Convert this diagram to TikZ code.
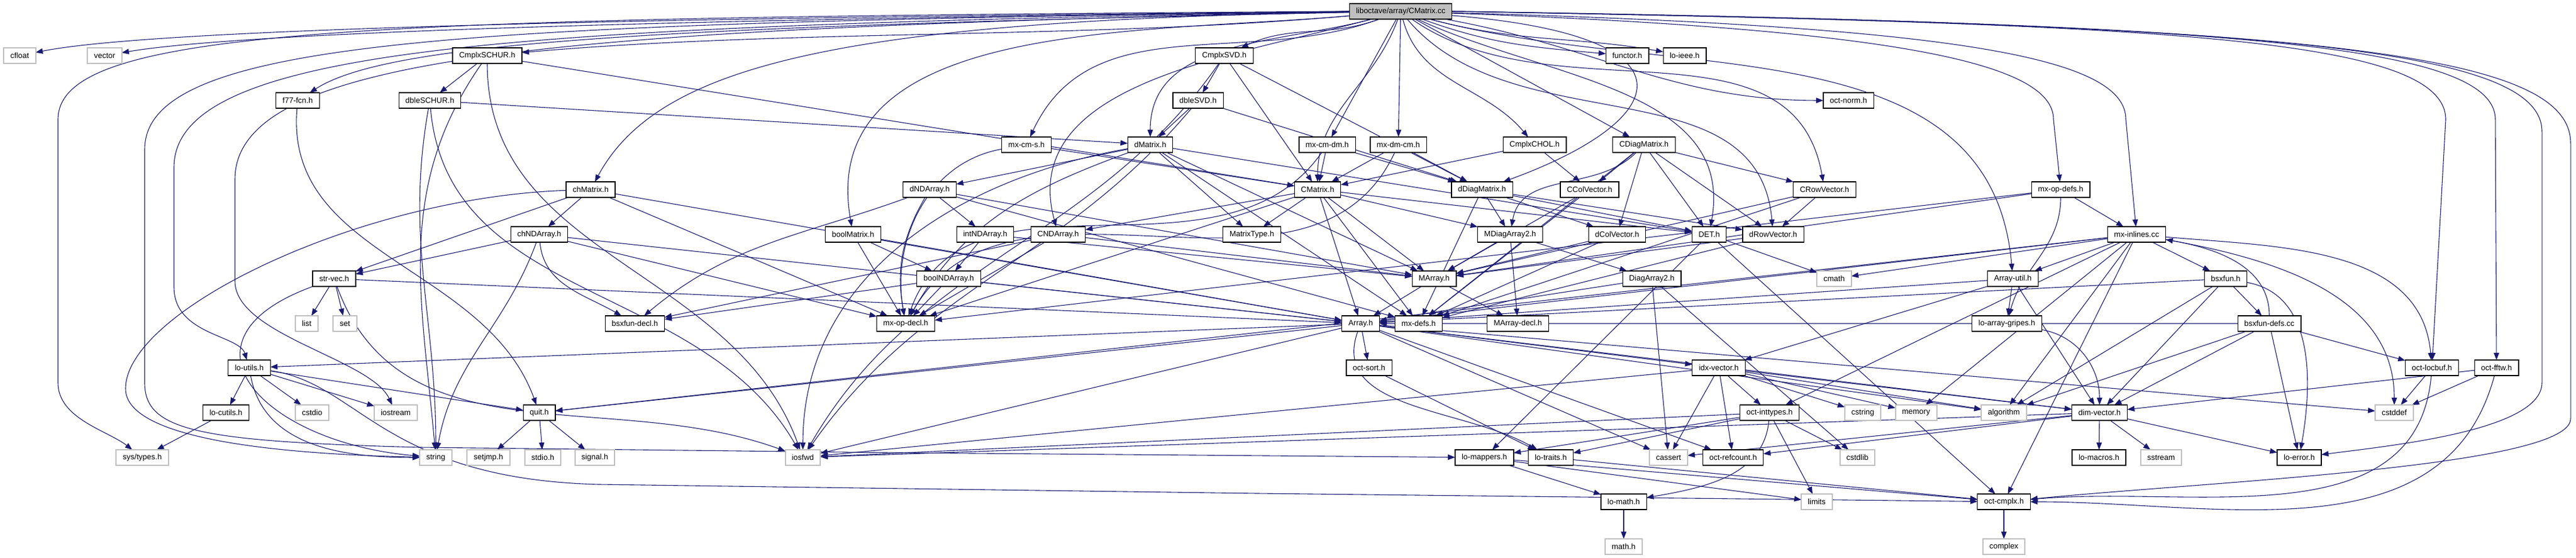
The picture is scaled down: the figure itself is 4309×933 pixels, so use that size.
\documentclass[tikz,border=0pt]{standalone}
\usepackage{fontspec}
\setmainfont{Liberation Sans}
\usepackage{tikz}
\usetikzlibrary{arrows.meta,backgrounds,calc}
\definecolor{edgecol}{HTML}{191970}
\definecolor{syscol}{HTML}{BFBFBF}

\begin{document}
\begin{tikzpicture}[x = 0.08pt, y = -0.08pt]
	\tikzstyle{every node} = [rectangle, draw = black, line width = 0.096pt, fill = white, minimum height = 2.08pt, inner xsep = 0.88pt, inner ysep = 0pt, outer sep = 0pt, font = \fontsize{1.04}{1.25}\selectfont]
	\tikzstyle{sys} = [draw = syscol, line width = 0.16pt]
	\tikzstyle{dep} = [draw = edgecol, line width = 0.088pt, -{Triangle[length = 0.96pt, width = 0.72pt]}]
	\useasboundingbox (0, 0) rectangle (4309, 933);

% rows 0 - 2
\node[fill = syscol] (cmcc) at (2343, 19) {liboctave/array/CMatrix.cc};
\node[sys] (cfloat) at (33, 93) {cfloat};
\node[sys] (vector) at (175, 93) {vector};
\node (cschur) at (815, 93) {CmplxSCHUR.h};
\node (csvd) at (2048, 93) {CmplxSVD.h};
\node (functor) at (2722, 93) {functor.h};
\node (loieee) at (2818, 93) {lo-ieee.h};
\node (f77) at (498, 168) {f77-fcn.h};
\node (dschur) at (719, 168) {dbleSCHUR.h};
\node (dsvd) at (2004, 168) {dbleSVD.h};
\node (octnorm) at (3092, 168) {oct-norm.h};

% rows 3 - 5
\node (mxcms) at (1717, 242) {mx-cm-s.h};
\node (dmat) at (1924, 242) {dMatrix.h};
\node (mxcmdm) at (2220, 242) {mx-cm-dm.h};
\node (mxdmcm) at (2339, 242) {mx-dm-cm.h};
\node (cchol) at (2567, 242) {CmplxCHOL.h};
\node (cdiag) at (2750, 242) {CDiagMatrix.h};
\node (chmat) at (988, 317) {chMatrix.h};
\node (dnda) at (1555, 317) {dNDArray.h};
\node (cmat) at (2204, 317) {CMatrix.h};
\node (ddiag) at (2479, 317) {dDiagMatrix.h};
\node (ccol) at (2659, 317) {CColVector.h};
\node (crow) at (3052, 317) {CRowVector.h};
\node (mxopdefs) at (3447, 317) {mx-op-defs.h};
\node (chnda) at (902, 392) {chNDArray.h};
\node (boolmat) at (1427, 392) {boolMatrix.h};
\node (intnda) at (1648, 392) {intNDArray.h};
\node (cnda) at (1770, 392) {CNDArray.h};
\node (mtype) at (2094, 392) {MatrixType.h};
\node (mdiag) at (2526, 392) {MDiagArray2.h};
\node (dcol) at (2705, 392) {dColVector.h};
\node (det) at (2859, 392) {DET.h};
\node (drow) at (2966, 392) {dRowVector.h};
\node (mxinl) at (3574, 392) {mx-inlines.cc};

% rows 6 - 8
\node (strvec) at (559, 466) {str-vec.h};
\node (boolnda) at (1587, 466) {boolNDArray.h};
\node (marray) at (2399, 466) {MArray.h};
\node (diag2) at (2763, 466) {DiagArray2.h};
\node[sys] (cmath) at (3068, 466) {cmath};
\node (arrutil) at (3367, 466) {Array-util.h};
\node (bsxfun) at (3723, 466) {bsxfun.h};
\node[sys] (list) at (513, 541) {list};
\node[sys] (set) at (577, 541) {set};
\node (bsxdecl) at (1062, 541) {bsxfun-decl.h};
\node (mxopdecl) at (1515, 541) {mx-op-decl.h};
\node (array) at (2276, 541) {Array.h};
\node (mxdefs) at (2373, 541) {mx-defs.h};
\node (marrdecl) at (2539, 541) {MArray-decl.h};
\node (gripes) at (3357, 541) {lo-array-gripes.h};
\node (bsxdefs) at (3796, 541) {bsxfun-defs.cc};
\node (loutils) at (417, 615) {lo-utils.h};
\node (octsort) at (2290, 615) {oct-sort.h};
\node (idxvec) at (2875, 615) {idx-vector.h};
\node (locbuf) at (4068, 615) {oct-locbuf.h};
\node (fftw) at (4176, 615) {oct-fftw.h};

% rows 9 - 12
\node (locutils) at (378, 690) {lo-cutils.h};
\node[sys] (cstdio) at (522, 690) {cstdio};
\node[sys] (iostream) at (662, 690) {iostream};
\node (quit) at (902, 690) {quit.h};
\node (inttypes) at (2960, 690) {oct-inttypes.h};
\node[sys] (cstring) at (3116, 690) {cstring};
\node[sys] (memory) at (3205, 690) {memory};
\node[sys] (algorithm) at (3352, 690) {algorithm};
\node (dimvec) at (3512, 690) {dim-vector.h};
\node[sys] (cstddef) at (4005, 690) {cstddef};
\node[sys] (systypes) at (238, 765) {sys/types.h};
\node[sys] (string) at (729, 765) {string};
\node[sys] (setjmp) at (817, 765) {setjmp.h};
\node[sys] (stdio) at (908, 765) {stdio.h};
\node[sys] (signal) at (995, 765) {signal.h};
\node[sys] (iosfwd) at (1343, 765) {iosfwd};
\node (mappers) at (2483, 765) {lo-mappers.h};
\node (traits) at (2594, 765) {lo-traits.h};
\node[sys] (cassert) at (2791, 765) {cassert};
\node (refcount) at (2899, 765) {oct-refcount.h};
\node[sys] (cstdlib) at (3107, 765) {cstdlib};
\node (macros) at (3511, 765) {lo-macros.h};
\node[sys] (sstream) at (3615, 765) {sstream};
\node (loerror) at (3846, 765) {lo-error.h};
\node (lomath) at (2716, 839) {lo-math.h};
\node[sys] (limits) at (3039, 839) {limits};
\node (cmplx) at (3352, 839) {oct-cmplx.h};
\node[sys] (mathh) at (2716, 914) {math.h};
\node[sys] (complex) at (3352, 914) {complex};

\begin{pgfonlayer}{background}
% CMatrix.cc
	\path[dep] (cmcc) .. controls (1000, 30) and (250, 50) .. (cfloat);
	\path[dep] (cmcc) .. controls (1100, 32) and (400, 55) .. (vector);
	\path[dep] (cmcc.west) .. controls (600, 30) and (97, 45) .. (97, 200) -- (97, 640) .. controls (97, 700) and (180, 720) .. (systypes);
	\path[dep] (cmcc.west) .. controls (800, 40) and (242, 60) .. (242, 250) -- (242, 640) .. controls (242, 720) and (330, 738) .. (700, 748) -- (1500, 757) -- (mappers);
	\path[dep] (cmcc.west) .. controls (900, 45) and (291, 70) .. (291, 280) -- (291, 480) .. controls (291, 560) and (400, 560) .. (loutils);
	\path[dep] (cmcc.west) .. controls (1000, 50) and (393, 80) .. (393, 300) -- (393, 470) .. controls (393, 560) and (620, 600) .. (iostream);
	\path[dep] (cmcc) to[out = 185, in = 5, distance = 36pt] (cschur);
	\path[dep] (cmcc) .. controls (1100, 45) and (650, 70) .. (f77);
	\path[dep] (cmcc) .. controls (1400, 35) and (1100, 110) .. (chmat);
	\path[dep] (cmcc) to[out = 185, in = 100] (boolmat);
	\path[dep] (cmcc) to[out = 200, in = 65] (mxcms);
	\path[dep] (cmcc) to[out = 195, in = 105] (cnda);
	\path[dep] (cmcc) to[out = 195, in = 90] (dmat);
	\path[dep] (cmcc) to[out = 200, in = 25] (csvd);
	\path[dep] (cmcc) to[out = 250, in = 90] (cmat);
	\path[dep] (cmcc) -- (mxcmdm);
	\path[dep] (cmcc) -- (mxdmcm);
	\path[dep] (cmcc) to[out = -75, in = 130] (cchol);
	\path[dep] (cmcc) -- (cdiag);
	\path[dep] (cmcc) .. controls (2850, 60) and (2800, 200) .. (ddiag);
	\path[dep] (cmcc) to[out = -20, in = 175] (functor);
	\path[dep] (cmcc) to[out = -15, in = 170] (loieee);
	\path[dep] (cmcc) to[out = -10, in = 180] (octnorm);
	\path[dep] (cmcc) to[out = -35, in = 100] (crow);
	\path[dep] (cmcc) to[out = -50, in = 95] (drow);
	\path[dep] (cmcc) to[out = -25, in = 80] (det);
	\path[dep] (cmcc) .. controls (3200, 50) and (3435, 110) .. (3435, 200) -- (mxopdefs);
	\path[dep] (cmcc) .. controls (3300, 45) and (3556, 100) .. (3556, 200) -- (mxinl);
	\path[dep] (cmcc) to[out = -15, in = 95] (arrutil);
	\path[dep] (cmcc.east) .. controls (3600, 40) and (4091, 60) .. (4091, 200) -- (locbuf);
	\path[dep] (cmcc.east) .. controls (3700, 40) and (4174, 70) .. (4174, 200) -- (fftw);
	\path[dep] (cmcc.east) .. controls (3800, 40) and (4252, 80) .. (4252, 220) -- (4252, 640) .. controls (4252, 720) and (4000, 745) .. (loerror);
	\path[dep] (cmcc.east) .. controls (3900, 40) and (4300, 90) .. (4300, 240) -- (4300, 700) .. controls (4300, 780) and (3700, 805) .. (cmplx);

% upper headers
	\path[dep] (cschur) -- (dschur); \path[dep] (cschur) -- (cmat);
	\path[dep] (cschur) to[out = 235, in = 95] (string);
	\path[dep] (cschur) to[out = 270, in = 110] (iosfwd);
	\path[dep] (dschur) -- (dmat);
	\path[dep] (dschur) to[out = 260, in = 90] (string);
	\path[dep] (dschur) to[out = 275, in = 120] (iosfwd);
	\path[dep] (csvd) -- (dsvd); \path[dep] (csvd) -- (cmat); \path[dep] (csvd) -- (ddiag);
	\path[dep] (csvd) to[out = 235, in = 60] (iosfwd);
	\path[dep] (dsvd) -- (dmat); \path[dep] (dsvd) -- (ddiag);
	\path[dep] (dsvd) to[out = 230, in = 55] (iosfwd);
	\path[dep] (f77) to[out = 265, in = 110] (quit);
	\path[dep] (mxcms) -- (cmat);
	\path[dep] (mxcms) to[out = 190, in = 100] (mxopdecl);
	\path[dep] (mxcmdm) -- (cmat); \path[dep] (mxcmdm) -- (ddiag);
	\path[dep] (mxcmdm) to[out = 235, in = 70] (mxopdecl);
	\path[dep] (mxdmcm) -- (cmat); \path[dep] (mxdmcm) -- (ddiag);
	\path[dep] (mxdmcm) to[out = 245, in = 60] (mxopdecl);
	\path[dep] (cchol) -- (cmat); \path[dep] (cchol) -- (ccol);
	\path[dep] (cdiag) to[out = 225, in = 80] (mdiag);
	\path[dep] (cdiag) -- (ccol); \path[dep] (cdiag) -- (dcol); \path[dep] (cdiag) -- (det);
	\path[dep] (cdiag) -- (drow); \path[dep] (cdiag) -- (crow); \path[dep] (cdiag) -- (mxdefs);

% char, bool and double arrays
	\path[dep] (chmat) -- (chnda); \path[dep] (chmat) -- (strvec);
	\path[dep] (chmat) .. controls (600, 330) and (210, 520) .. (210, 650) .. controls (210, 740) and (500, 760) .. (string);
	\path[dep] (chmat) -- (mxopdecl); \path[dep] (chmat) -- (array);
	\path[dep] (chnda) -- (strvec); \path[dep] (chnda) -- (mxopdecl); \path[dep] (chnda) -- (array);
	\path[dep] (chnda) to[out = 275, in = 150] (bsxdecl);
	\path[dep] (chnda) to[out = 250, in = 80] (string);
	\path[dep] (strvec) -- (list); \path[dep] (strvec) -- (set);
	\path[dep] (strvec) -- ($(strvec)!.5!(array)$) -- (array);
	\path[dep] (strvec) to[out = 200, in = 175, looseness = 2] (string);
	\path[dep] (strvec) to[out = 290, in = 160] (iosfwd);
	\path[dep] (loutils) -- (locutils); \path[dep] (loutils) -- (cstdio);
	\path[dep] (loutils) -- (iostream); \path[dep] (loutils) -- (quit);
	\path[dep] (loutils) to[out = 280, in = 180] (string);
	\path[dep] (loutils) .. controls (600, 640) and (640, 800) .. (1000, 810) -- (2100, 825) -- (cmplx);
	\path[dep] (locutils) -- (systypes);
	\path[dep] (quit) -- (setjmp); \path[dep] (quit) -- (stdio); \path[dep] (quit) -- (signal);
	\path[dep] (dmat) -- (dnda); \path[dep] (dmat) -- (mtype); \path[dep] (dmat) -- (det);
	\path[dep] (dmat) -- (marray); \path[dep] (dmat) -- (mxdefs);
	\path[dep] (dmat) to[out = 200, in = 60] (mxopdecl);
	\path[dep] (dmat) to[out = 190, in = 90] (iosfwd);
	\path[dep] (cmat) -- (cnda); \path[dep] (cmat) -- (mtype); \path[dep] (cmat) -- (marray);
	\path[dep] (cmat) -- (mdiag); \path[dep] (cmat) -- (det); \path[dep] (cmat) -- (mxdefs);
	\path[dep] (cmat) -- (mxopdecl); \path[dep] (cmat) -- (array);
	\path[dep] (ddiag) -- (mdiag); \path[dep] (ddiag) -- (dcol); \path[dep] (ddiag) -- (det);
	\path[dep] (ddiag) -- (drow); \path[dep] (ddiag) -- (mxdefs);
	\path[dep] (ccol) -- (marray); \path[dep] (ccol) -- (mxdefs);
	\path[dep] (crow) -- (drow); \path[dep] (crow) -- (marray); \path[dep] (crow) -- (mxdefs);
	\path[dep] (dnda) -- (intnda); \path[dep] (dnda) -- (mxdefs); \path[dep] (dnda) -- (marray);
	\path[dep] (dnda) to[out = 200, in = 40] (bsxdecl);
	\path[dep] (dnda) to[out = 240, in = 100] (mxopdecl);
	\path[dep] (intnda) -- (boolnda); \path[dep] (intnda) -- (marray);
	\path[dep] (boolmat) -- (boolnda); \path[dep] (boolmat) -- (mxopdecl); \path[dep] (boolmat) -- (array);
	\path[dep] (boolnda) -- (mxopdecl); \path[dep] (boolnda) -- (bsxdecl); \path[dep] (boolnda) -- (array);
	\path[dep] (cnda) -- (mxopdecl); \path[dep] (cnda) -- (bsxdecl); \path[dep] (cnda) -- (marray);
	\path[dep] (mdiag) -- (diag2); \path[dep] (mdiag) -- (marray); \path[dep] (mdiag) -- (marrdecl);
	\path[dep] (dcol) -- (marray); \path[dep] (dcol) -- (mxdefs);
	\path[dep] (drow) -- (marray); \path[dep] (drow) -- (mxdefs);
	\path[dep] (det) -- (cmath); \path[dep] (det) -- (mappers); \path[dep] (det) -- (cmplx);

% mx-inlines.cc, bsxfun and friends
	\path[dep] (mxopdefs) -- (mxinl); \path[dep] (mxopdefs) -- (marray);
	\path[dep] (mxopdefs) -- ($(mxopdefs)!.5!(mxopdecl)$) -- (mxopdecl);
	\path[dep] (mxopdefs) to[out = 270, in = 75] (gripes);
	\path[dep] (mxinl) -- (arrutil); \path[dep] (mxinl) -- (bsxfun); \path[dep] (mxinl) -- (cmath);
	\path[dep] (mxinl) -- (array); \path[dep] (mxinl) -- (memory);
	\path[dep] (mxinl) -- ($(mxinl)!.5!(quit)$) -- (quit);
	\path[dep] (mxinl) -- (inttypes); \path[dep] (mxinl) -- (cmplx); \path[dep] (mxinl) -- (algorithm);
	\path[dep] (mxinl) to[out = -5, in = 95] (locbuf);
	\path[dep] (mxinl) to[out = -10, in = 90] (cstddef);
	\path[dep] (bsxdefs) to[out = 90, in = -10] (mxinl);
	\path[dep] (marray) -- (array); \path[dep] (marray) -- (marrdecl);
	\path[dep] (diag2) -- (cassert); \path[dep] (diag2) -- (cstdlib); \path[dep] (diag2) -- (array);
	\path[dep] (arrutil) -- (array); \path[dep] (arrutil) -- (idxvec);
	\path[dep] (arrutil) -- (gripes); \path[dep] (arrutil) -- (dimvec);
	\path[dep] (bsxfun) -- ($(bsxfun)!.5!(array)$) -- (array);
	\path[dep] (bsxfun) -- (algorithm); \path[dep] (bsxfun) -- (dimvec); \path[dep] (bsxfun) -- (bsxdefs);
	\path[dep] (bsxfun) to[out = -10, in = 80] (loerror);
	\path[dep] (bsxdefs) -- ($(bsxdefs)!.5!(array)$) -- (array);
	\path[dep] (bsxdefs) -- (algorithm); \path[dep] (bsxdefs) -- (dimvec);
	\path[dep] (bsxdefs) -- (loerror); \path[dep] (bsxdefs) -- (locbuf);
	\path[dep] (gripes) to[out = -10, in = 90] (dimvec);
	\path[dep] (locbuf) -- (cstddef);
	\path[dep] (locbuf) to[out = 265, in = 5] (cmplx);
	\path[dep] (fftw) -- (dimvec); \path[dep] (fftw) -- (cstddef);
	\path[dep] (fftw) to[out = 255, in = 0] (cmplx);
	\path[dep] (dimvec) -- (macros); \path[dep] (dimvec) -- (sstream); \path[dep] (dimvec) -- (loerror);
	\path[dep] (dimvec) -- (cassert); \path[dep] (dimvec) -- (refcount);
	\path[dep] (dimvec) -- ($(dimvec)!.5!(iosfwd)$) -- (iosfwd);

% Array.h and below
	\path[dep] (array) -- ($(array)!.5!(loutils)$) -- (loutils);
	\path[dep] (array) -- (octsort); \path[dep] (array) -- (idxvec);
	\path[dep] (array) to[out = 250, in = 150] (traits);
	\path[dep] (array) -- (cassert); \path[dep] (array) -- (refcount); \path[dep] (array) -- (dimvec);
	\path[dep] (array) -- (algorithm); \path[dep] (array) -- (quit); \path[dep] (array) -- (iosfwd);
	\path[dep] (array) -- ($(array)!.5!(cstddef)$) -- (cstddef);
	\path[dep] (octsort) -- (traits);
	\path[dep] (idxvec) -- ($(idxvec)!.5!(iosfwd)$) -- (iosfwd);
	\path[dep] (idxvec) -- (cassert); \path[dep] (idxvec) -- (refcount);
	\path[dep] (idxvec) -- (inttypes); \path[dep] (idxvec) -- (cstring); \path[dep] (idxvec) -- (memory);
	\path[dep] (idxvec) -- (algorithm); \path[dep] (idxvec) -- (dimvec);
	\path[dep] (inttypes) -- ($(inttypes)!.5!(iosfwd)$) -- (iosfwd);
	\path[dep] (inttypes) -- (traits); \path[dep] (inttypes) -- (limits);
	\path[dep] (inttypes) -- (cstdlib); \path[dep] (inttypes) -- (mappers);
	\path[dep] (inttypes) to[out = 265, in = 10] (lomath);
	\path[dep] (mappers) -- (lomath); \path[dep] (mappers) -- (limits); \path[dep] (mappers) -- (cmplx);
	\path[dep] (traits) -- (cmplx);
	\path[dep] (lomath) -- (mathh);
	\path[dep] (cmplx) -- (complex);
\end{pgfonlayer}
\end{tikzpicture}
\end{document}
